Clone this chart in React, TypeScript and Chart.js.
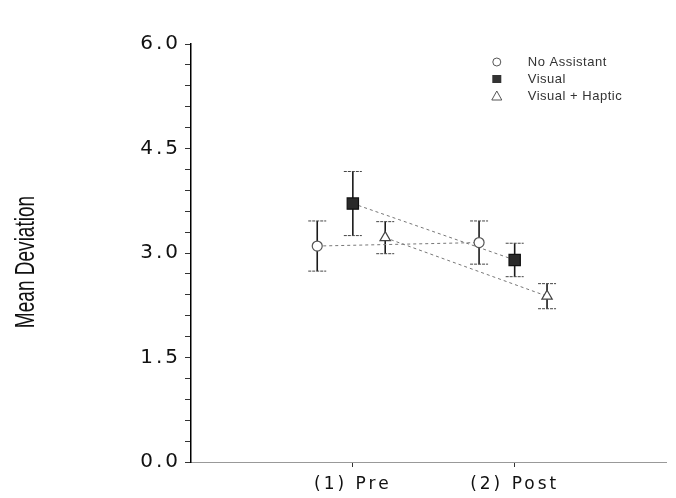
import React, { useEffect, useRef } from 'react';
import { Chart, registerables } from 'chart.js';

Chart.register(...registerables);

const categories = ['(1) Pre', '(2) Post'];
const seriesNames = ['No Assistant', 'Visual', 'Visual + Haptic'];
const noAssistantMean = [3.1, 3.15];
const noAssistantErr = [0.36, 0.31];
const visualMean = [3.71, 2.9];
const visualErr = [0.46, 0.24];
const hapticMean = [3.22, 2.38];
const hapticErr = [0.23, 0.18];
const yTickLabels = ['0.0', '1.5', '3.0', '4.5', '6.0'];
const yMajorValues = [0, 1.5, 3.0, 4.5, 6.0];
const yMinorPerMajor = 5;
const yAxisTitle = 'Mean Deviation';

const seriesStyle = [
  { offset: -0.22, pointStyle: 'circle', radius: 5, bg: '#ffffff', border: '#555' },
  { offset: 0, pointStyle: 'rect', radius: 8, bg: '#2a2a2a', border: '#111' },
  { offset: 0.2, pointStyle: 'triangle', radius: 6, bg: '#ffffff', border: '#444' },
];

const means = [noAssistantMean, visualMean, hapticMean];
const errs = [noAssistantErr, visualErr, hapticErr];

const errorBarPlugin = {
  id: 'errorBars',
  beforeDatasetsDraw(chart: any) {
    const ctx = chart.ctx;
    ctx.letterSpacing = '0px';
    const y = chart.scales.y;
    chart.data.datasets.forEach((ds: any, di: number) => {
      const meta = chart.getDatasetMeta(di);
      meta.data.forEach((pt: any, i: number) => {
        const v = ds.data[i].y;
        const e = ds.errors[i];
        const top = y.getPixelForValue(v + e);
        const bot = y.getPixelForValue(v - e);
        ctx.save();
        ctx.strokeStyle = '#1a1a1a';
        ctx.lineWidth = 1.6;
        ctx.beginPath();
        ctx.moveTo(pt.x, top);
        ctx.lineTo(pt.x, bot);
        ctx.stroke();
        ctx.strokeStyle = '#444';
        ctx.lineWidth = 1;
        ctx.setLineDash([3, 1]);
        ctx.beginPath();
        ctx.moveTo(pt.x - 9, top);
        ctx.lineTo(pt.x + 9, top);
        ctx.moveTo(pt.x - 9, bot);
        ctx.lineTo(pt.x + 9, bot);
        ctx.stroke();
        ctx.restore();
      });
    });
  },
};

const spacingPlugin = {
  id: 'spacing',
  beforeDraw(chart: any) {
    chart.ctx.letterSpacing = '3px';
  },
};

const decorPlugin = {
  id: 'decor',
  afterDraw(chart: any) {
    const ctx = chart.ctx;
    const area = chart.chartArea;
    ctx.save();
    ctx.letterSpacing = '0px';
    ctx.save();
    ctx.translate(26, (area.top + area.bottom) / 2 + 9);
    ctx.rotate(-Math.PI / 2);
    ctx.scale(0.68, 1);
    ctx.font = '28px "Liberation Sans"';
    ctx.fillStyle = '#111';
    ctx.textAlign = 'center';
    ctx.textBaseline = 'middle';
    ctx.fillText(yAxisTitle, 0, 0);
    ctx.restore();
    const lx = area.right - 170;
    seriesNames.forEach((name, i) => {
      const yy = area.top + 18 + i * 17;
      const st = seriesStyle[i];
      ctx.lineWidth = 1;
      ctx.strokeStyle = '#555';
      ctx.fillStyle = st.bg;
      ctx.beginPath();
      if (st.pointStyle === 'circle') {
        ctx.arc(lx, yy, 4, 0, Math.PI * 2);
        ctx.fill();
        ctx.stroke();
      } else if (st.pointStyle === 'rect') {
        ctx.fillStyle = '#333';
        ctx.fillRect(lx - 4.5, yy - 4, 9, 8);
      } else {
        ctx.moveTo(lx, yy - 5);
        ctx.lineTo(lx + 5, yy + 4);
        ctx.lineTo(lx - 5, yy + 4);
        ctx.closePath();
        ctx.stroke();
      }
      ctx.fillStyle = '#333';
      ctx.font = '13px "Liberation Sans"';
      ctx.textAlign = 'left';
      ctx.textBaseline = 'middle';
      ctx.letterSpacing = '0.5px';
      ctx.fillText(name, lx + 31, yy);
      ctx.letterSpacing = '0px';
    });
    ctx.restore();
  },
};

export default function App() {
  const ref = useRef<HTMLCanvasElement>(null);
  useEffect(() => {
    if (!ref.current) return;
    const datasets = seriesNames.map((name, si) => {
      const st = seriesStyle[si];
      return {
        label: name,
        data: categories.map((_, ci) => ({ x: ci + 1 + st.offset, y: means[si][ci] })),
        errors: errs[si],
        showLine: true,
        borderColor: '#777',
        borderWidth: 1,
        borderDash: [3, 3],
        pointStyle: st.pointStyle,
        pointRadius: st.radius,
        pointBackgroundColor: st.bg,
        pointBorderColor: st.border,
        pointBorderWidth: 1.2,
      };
    });
    const chart = new Chart(ref.current, {
      type: 'scatter',
      data: { datasets: datasets as any },
      options: {
        animation: false,
        responsive: false,
        events: [],
        layout: { padding: { top: 44, right: 6, left: 0, bottom: 0 } },
        plugins: { legend: { display: false }, tooltip: { enabled: false } },
        scales: {
          x: {
            type: 'linear',
            min: 0,
            max: 2.94,
            afterBuildTicks: (s: any) => {
              s.ticks = categories.map((_, i) => ({ value: i + 1 }));
            },
            afterFit: (s: any) => {
              s.height = 36;
            },
            ticks: {
              autoSkip: false,
              maxRotation: 0,
              padding: 7,
              color: '#111',
              font: { family: 'DejaVu Sans', size: 17 },
              callback: (v: any) => categories[Math.round(v) - 1] ?? '',
            },
            grid: { drawOnChartArea: false, tickLength: 5, color: '#333' },
            border: { color: '#999', dash: [2, 2], width: 1 },
          },
          y: {
            min: 0,
            max: 6,
            afterFit: (s: any) => {
              s.width = 191;
            },
            afterBuildTicks: (s: any) => {
              const t: any[] = [];
              for (let m = 0; m < yMajorValues.length; m++) {
                t.push({ value: yMajorValues[m], major: true });
                if (m < yMajorValues.length - 1) {
                  const step = (yMajorValues[m + 1] - yMajorValues[m]) / yMinorPerMajor;
                  for (let k = 1; k < yMinorPerMajor; k++) t.push({ value: yMajorValues[m] + k * step });
                }
              }
              s.ticks = t;
            },
            ticks: {
              autoSkip: false,
              padding: 4,
              color: '#111',
              font: { family: 'DejaVu Sans', size: 20 },
              callback: (v: any) => {
                const idx = yMajorValues.findIndex((m) => Math.abs(m - v) < 1e-6);
                return idx >= 0 ? yTickLabels[idx] : '';
              },
            },
            grid: { drawOnChartArea: false, tickLength: 6, color: '#333' },
            border: { color: '#000', width: 1.5 },
          },
        },
      } as any,
      plugins: [spacingPlugin, errorBarPlugin, decorPlugin],
    });
    return () => chart.destroy();
  }, []);
  return (
    <div style={{ position: 'absolute', left: 0, top: 0, width: 676, height: 498, background: '#fff' }}>
      <canvas ref={ref} width={676} height={498} />
    </div>
  );
}
